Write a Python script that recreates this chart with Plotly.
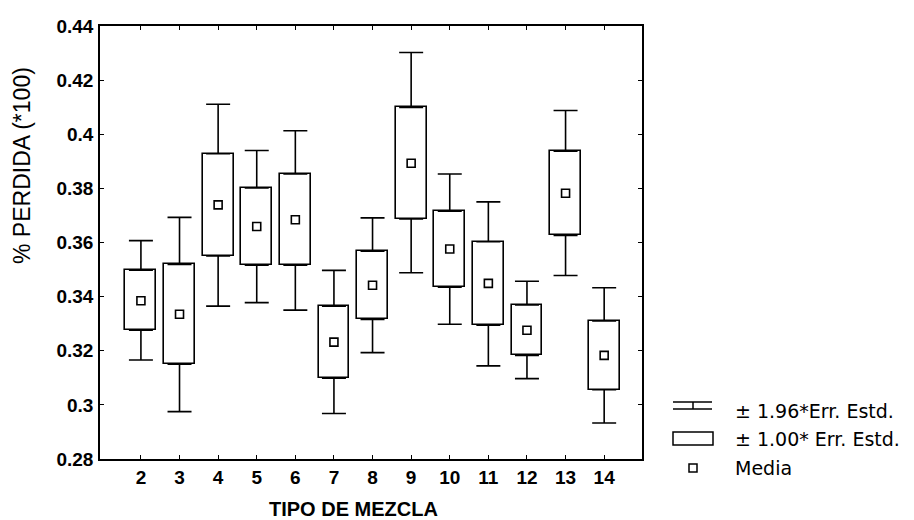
import plotly.graph_objects as go

# ---- data ----
tipo = [2, 3, 4, 5, 6, 7, 8, 9, 10, 11, 12, 13, 14]
media = [0.3385, 0.3335, 0.3739, 0.3659, 0.3684, 0.3232, 0.3442, 0.3893,
         0.3576, 0.3449, 0.3276, 0.3782, 0.3183]
caja_inf = [0.3276, 0.3150, 0.3550, 0.3516, 0.3516, 0.3099, 0.3316, 0.3687,
            0.3435, 0.3294, 0.3183, 0.3626, 0.3056]
caja_sup = [0.3498, 0.3519, 0.3928, 0.3802, 0.3853, 0.3365, 0.3568, 0.4099,
            0.3716, 0.3603, 0.3369, 0.3937, 0.3310]
bigote_inf = [0.3166, 0.2975, 0.3365, 0.3378, 0.3350, 0.2968, 0.3193, 0.3488,
              0.3298, 0.3144, 0.3097, 0.3478, 0.2933]
bigote_sup = [0.3607, 0.3693, 0.4111, 0.3940, 0.4013, 0.3497, 0.3691, 0.4302,
              0.3853, 0.3750, 0.3457, 0.4088, 0.3433]
y_ticks = [0.28, 0.30, 0.32, 0.34, 0.36, 0.38, 0.40, 0.42, 0.44]
y_ticktext = ["0.28", "0.3", "0.32", "0.34", "0.36", "0.38", "0.4", "0.42", "0.44"]
leyenda = ["\u00b1 1.96*Err. Estd.", "\u00b1 1.00* Err. Estd.", "Media"]

# ---- layout constants (pixels) ----
W, H = 914, 520
L, R, T, B = 100, 272, 26, 61
PW, PH = W - L - R, H - T - B


def px(xp):
    return (xp - L) / PW


def py(yp):
    return (H - B - yp) / PH


fig = go.Figure()

# boxes (+/- 1 SE)
fig.add_trace(go.Bar(
    x=tipo, base=caja_inf,
    y=[h - l for h, l in zip(caja_sup, caja_inf)],
    width=0.8,
    marker=dict(color="white", line=dict(color="black", width=1.6)),
    showlegend=False, hoverinfo="skip",
))

# upper whiskers
fig.add_trace(go.Scatter(
    x=tipo, y=caja_sup, mode="markers",
    marker=dict(size=1, color="rgba(0,0,0,0)"),
    error_y=dict(type="data", symmetric=False,
                 array=[w - h for w, h in zip(bigote_sup, caja_sup)],
                 arrayminus=[0] * len(tipo),
                 color="black", thickness=1.6, width=12),
    showlegend=False, hoverinfo="skip",
))
# lower whiskers
fig.add_trace(go.Scatter(
    x=tipo, y=caja_inf, mode="markers",
    marker=dict(size=1, color="rgba(0,0,0,0)"),
    error_y=dict(type="data", symmetric=False,
                 array=[0] * len(tipo),
                 arrayminus=[l - w for l, w in zip(caja_inf, bigote_inf)],
                 color="black", thickness=1.6, width=12),
    showlegend=False, hoverinfo="skip",
))
# means
fig.add_trace(go.Scatter(
    x=tipo, y=media, mode="markers",
    marker=dict(symbol="square-open", size=8, color="black",
                line=dict(width=1.6, color="black")),
    showlegend=False,
))

tickfont = dict(family="Liberation Sans, Arial, sans-serif", size=19,
                color="black", weight="bold")

fig.update_xaxes(
    range=[0.94, 14.98], tickvals=tipo, ticktext=[str(t) for t in tipo],
    tickfont=tickfont, showline=True, linecolor="black", linewidth=1.6,
    mirror="allticks", ticks="inside", ticklen=4, tickcolor="black",
    showgrid=False, zeroline=False, ticklabelstandoff=0,
)
fig.update_yaxes(
    range=[0.28, 0.44], tickvals=y_ticks, ticktext=y_ticktext,
    tickfont=tickfont, showline=True, linecolor="black", linewidth=1.6,
    mirror="allticks", ticks="inside", ticklen=4, tickcolor="black",
    showgrid=False, zeroline=False, ticklabelstandoff=1,
)

annotations = [
    dict(text="% PERDIDA (*100)", x=px(22), y=py(166), xref="paper",
         yref="paper", textangle=-90, showarrow=False,
         xanchor="center", yanchor="middle",
         font=dict(family="Liberation Sans, Arial, sans-serif", size=23,
                   color="black")),
    dict(text="TIPO DE MEZCLA", x=px(353), y=py(509), xref="paper",
         yref="paper", showarrow=False, xanchor="center", yanchor="middle",
         font=dict(family="Liberation Sans, Arial, sans-serif", size=20,
                   color="black", weight="bold")),
]
for txt, yy in zip(leyenda, [411, 439, 468]):
    annotations.append(dict(
        text=txt, x=px(733), y=py(yy), xref="paper", yref="paper",
        xanchor="left", yanchor="middle", showarrow=False,
        font=dict(family="DejaVu Sans, sans-serif", size=19, color="black")))

line = dict(color="black", width=1.5)
shapes = [
    # I-beam glyph
    dict(type="line", xref="paper", yref="paper", x0=px(673), x1=px(712),
         y0=py(402), y1=py(402), line=line),
    dict(type="line", xref="paper", yref="paper", x0=px(673), x1=px(712),
         y0=py(409), y1=py(409), line=line),
    dict(type="line", xref="paper", yref="paper", x0=px(693), x1=px(693),
         y0=py(402), y1=py(409), line=line),
    # rectangle glyph
    dict(type="rect", xref="paper", yref="paper", x0=px(673), x1=px(713),
         y0=py(445), y1=py(432), line=line, fillcolor="white"),
    # mean glyph
    dict(type="rect", xref="paper", yref="paper", x0=px(689), x1=px(697),
         y0=py(472), y1=py(464), line=line, fillcolor="white"),
]

fig.update_layout(
    width=W, height=H,
    margin=dict(l=L, r=R, t=T, b=B, pad=0),
    plot_bgcolor="white", paper_bgcolor="white",
    annotations=annotations, shapes=shapes,
    bargap=0, showlegend=False,
)

fig.write_html("out.html")
